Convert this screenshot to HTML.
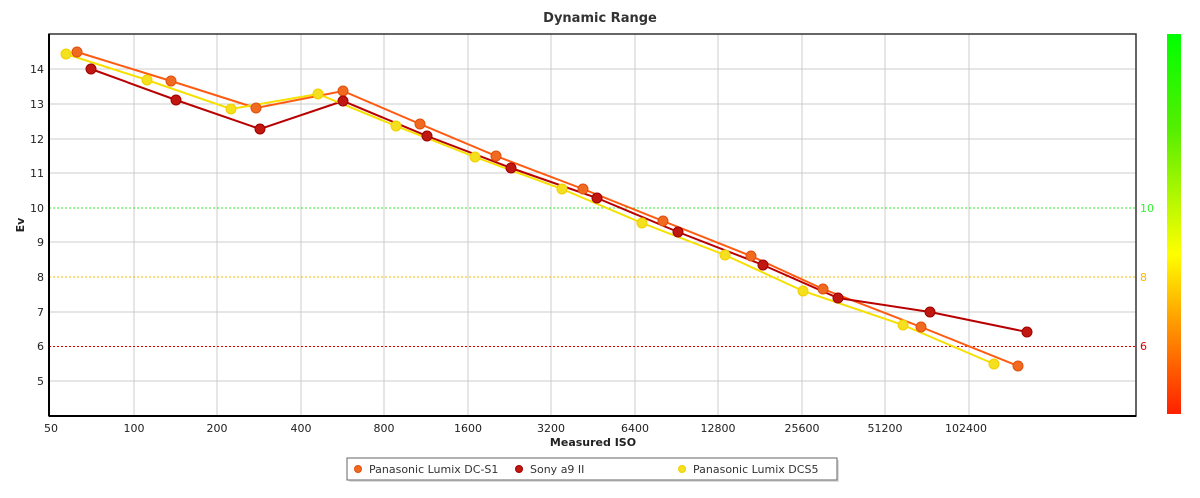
<!DOCTYPE html>
<html><head><meta charset="utf-8"><style>
body{margin:0;background:#fff;width:1200px;height:493px;overflow:hidden}
svg text{font-family:"DejaVu Sans","Liberation Sans",sans-serif}
</style></head><body>
<svg width="1200" height="493" viewBox="0 0 1200 493">
<defs>
<linearGradient id="cb" x1="0" y1="0" x2="0" y2="1">
<stop offset="0" stop-color="#00ff00"/><stop offset="0.25" stop-color="#55ee00"/>
<stop offset="0.58" stop-color="#ffff00"/><stop offset="0.75" stop-color="#ffa000"/>
<stop offset="1" stop-color="#ff2000"/></linearGradient>
</defs>
<text x="600" y="22" text-anchor="middle" font-size="13" font-weight="bold" fill="#333">Dynamic Range</text>
<g stroke="#ccc" stroke-width="1">
<line x1="49" y1="69" x2="1136" y2="69"/><line x1="49" y1="104" x2="1136" y2="104"/>
<line x1="49" y1="139" x2="1136" y2="139"/><line x1="49" y1="173" x2="1136" y2="173"/>
<line x1="49" y1="242" x2="1136" y2="242"/><line x1="49" y1="312" x2="1136" y2="312"/>
<line x1="49" y1="381" x2="1136" y2="381"/>
<line x1="134" y1="34" x2="134" y2="416"/><line x1="217" y1="34" x2="217" y2="416"/>
<line x1="301" y1="34" x2="301" y2="416"/><line x1="384" y1="34" x2="384" y2="416"/>
<line x1="468" y1="34" x2="468" y2="416"/><line x1="551" y1="34" x2="551" y2="416"/>
<line x1="635" y1="34" x2="635" y2="416"/><line x1="718" y1="34" x2="718" y2="416"/>
<line x1="802" y1="34" x2="802" y2="416"/><line x1="885" y1="34" x2="885" y2="416"/>
<line x1="969" y1="34" x2="969" y2="416"/>
</g>
<line x1="49" y1="208" x2="1136" y2="208" stroke="#33ee33" stroke-dasharray="2,2"/>
<line x1="49" y1="277" x2="1136" y2="277" stroke="#f5b800" stroke-dasharray="2,2"/>
<line x1="49" y1="346.5" x2="1136" y2="346.5" stroke="#dd0000" stroke-dasharray="2,2"/>
<rect x="49" y="34" width="1087" height="382" fill="none" stroke="#333" stroke-width="1.5"/>
<line x1="49" y1="34" x2="49" y2="416" stroke="#000" stroke-width="2"/>
<line x1="49" y1="416" x2="1136" y2="416" stroke="#000" stroke-width="2"/>
<g font-size="11" fill="#222" text-anchor="end">
<text x="44" y="73">14</text><text x="44" y="108">13</text><text x="44" y="143">12</text>
<text x="44" y="177">11</text><text x="44" y="212">10</text><text x="44" y="246">9</text>
<text x="44" y="281">8</text><text x="44" y="316">7</text><text x="44" y="350">6</text><text x="44" y="385">5</text>
</g>
<g font-size="11" fill="#33ee33"><text x="1140" y="212">10</text></g>
<text x="1140" y="281" font-size="11" fill="#f5b800">8</text>
<text x="1140" y="350" font-size="11" fill="#dd0000">6</text>
<g font-size="11" fill="#222" text-anchor="middle">
<text x="51" y="432">50</text><text x="134" y="432">100</text><text x="217" y="432">200</text>
<text x="301" y="432">400</text><text x="384" y="432">800</text><text x="468" y="432">1600</text>
<text x="551" y="432">3200</text><text x="635" y="432">6400</text><text x="718" y="432">12800</text>
<text x="802" y="432">25600</text><text x="885" y="432">51200</text><text x="966" y="432">102400</text>
</g>
<text x="593" y="446" text-anchor="middle" font-size="11" font-weight="bold" fill="#222">Measured ISO</text>
<text transform="translate(24,225) rotate(-90)" text-anchor="middle" font-size="11" font-weight="bold" fill="#222">Ev</text>
<rect x="1167" y="34" width="14" height="380" fill="url(#cb)"/>
<g fill="none" stroke-width="2">
<polyline stroke="#ff5a10" points="77,52 171,81 256,108 343,91 420,124 496,156 583,189 663,221 751,256 823,289 921,327 1018,366"/>
<polyline stroke="#b80000" points="91,69 176,100 260,129 343,101 427,136 511,168 597,198 678,232 763,265 838,298 930,312 1027,332"/>
<polyline stroke="#f5e000" points="66,54 147,80 231,109 318,94 396,126 475,157 562,189 642,223 725,255 803,291 903,325 994,364"/>
</g>
<g fill="#f06a20" stroke="#e05010">
<circle cx="77" cy="52" r="5"/><circle cx="171" cy="81" r="5"/><circle cx="256" cy="108" r="5"/><circle cx="343" cy="91" r="5"/><circle cx="420" cy="124" r="5"/><circle cx="496" cy="156" r="5"/><circle cx="583" cy="189" r="5"/><circle cx="663" cy="221" r="5"/><circle cx="751" cy="256" r="5"/><circle cx="823" cy="289" r="5"/><circle cx="921" cy="327" r="5"/><circle cx="1018" cy="366" r="5"/>
</g>
<g fill="#c01810" stroke="#a00000">
<circle cx="91" cy="69" r="5"/><circle cx="176" cy="100" r="5"/><circle cx="260" cy="129" r="5"/><circle cx="343" cy="101" r="5"/><circle cx="427" cy="136" r="5"/><circle cx="511" cy="168" r="5"/><circle cx="597" cy="198" r="5"/><circle cx="678" cy="232" r="5"/><circle cx="763" cy="265" r="5"/><circle cx="838" cy="298" r="5"/><circle cx="930" cy="312" r="5"/><circle cx="1027" cy="332" r="5"/>
</g>
<g fill="#f5e020" stroke="#f0d000">
<circle cx="66" cy="54" r="5"/><circle cx="147" cy="80" r="5"/><circle cx="231" cy="109" r="5"/><circle cx="318" cy="94" r="5"/><circle cx="396" cy="126" r="5"/><circle cx="475" cy="157" r="5"/><circle cx="562" cy="189" r="5"/><circle cx="642" cy="223" r="5"/><circle cx="725" cy="255" r="5"/><circle cx="803" cy="291" r="5"/><circle cx="903" cy="325" r="5"/><circle cx="994" cy="364" r="5"/>
</g>
<rect x="349" y="460" width="490" height="22" fill="#ddd"/>
<rect x="347" y="458" width="490" height="22" fill="#fff" stroke="#666"/>
<circle cx="358" cy="469" r="3.5" fill="#f06a20" stroke="#e05010"/>
<text x="369" y="473" font-size="11" fill="#333">Panasonic Lumix DC-S1</text>
<circle cx="519" cy="469" r="3.5" fill="#c01810" stroke="#a00000"/>
<text x="530" y="473" font-size="11" fill="#333">Sony a9 II</text>
<circle cx="682" cy="469" r="3.5" fill="#f5e020" stroke="#f0d000"/>
<text x="693" y="473" font-size="11" fill="#333">Panasonic Lumix DCS5</text>
</svg>
</body></html>
